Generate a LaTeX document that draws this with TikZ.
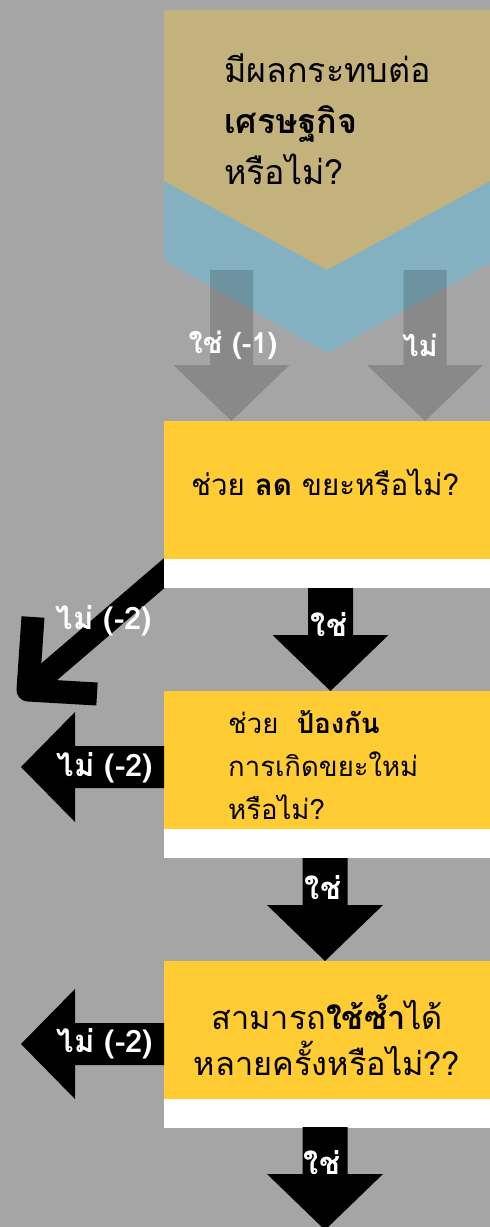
\documentclass[tikz,border=0pt]{standalone}
\usepackage{fontspec}
\setmainfont[Script=Thai]{Loma}
\definecolor{bgc}{HTML}{A5A5A5}
\definecolor{tanc}{HTML}{C4B27D}
\definecolor{bluec}{HTML}{84B1C2}
\definecolor{yelc}{HTML}{FFCC33}
\begin{document}
\begin{tikzpicture}[x=1pt,y=-1pt,
  lbl/.style={text=white,font=\fontsize{31}{34}\selectfont\bfseries,inner sep=0pt},
  qtext/.style={text=black,inner sep=0pt},
  strip/.style={fill=white,draw=none,inner sep=0pt,minimum width=326pt,minimum height=167pt,anchor=north west},
  ybox/.style={fill=yelc,draw=none,inner sep=0pt,minimum width=326pt,minimum height=138pt,anchor=north west},
  darrow/.pic={\fill (-22.5,0) -- (22.5,0) -- (22.5,47) -- (58,47) -- (0,103) -- (-58,47) -- (-22.5,47) -- cycle;},
  larrow/.pic={\fill (0,-21) -- (0,21) -- (-89,21) -- (-89,55) -- (-143,0) -- (-89,-55) -- (-89,-21) -- cycle;},
  garrow/.pic={\fill[black,opacity=0.17] (-21.5,0) -- (21.5,0) -- (21.5,95) -- (58,95) -- (0,151) -- (-58,95) -- (-21.5,95) -- cycle;}
  ]
\fill[bgc] (0,0) rectangle (490,1227);
\useasboundingbox (0,0) rectangle (490,1227);
% top chevrons
\fill[bluec] (164,180) -- (490,180) -- (490,263) -- (327,353) -- (164,260) -- cycle;
\fill[tanc] (164,10) -- (490,10) -- (490,181) -- (327,270) -- (164,181) -- cycle;
\node[qtext,align=left,anchor=west,font=\fontsize{34}{51}\selectfont] (t0) at (224,119)
  {มีผลกระทบต่อ\\\textbf{เศรษฐกิจ}\\หรือไม่?};
\pic at (231.5,270) {garrow};
\pic at (425,270) {garrow};
\node[lbl,font=\fontsize{29}{32}\selectfont\bfseries] (l01) at (233,345) {ใช่ (-1)};
\node[lbl,font=\fontsize{29}{32}\selectfont\bfseries] (l02) at (420,345) {ไม่};
% diagonal arrow
\draw[line width=23pt] (190,551) -- (36,683);
\draw[line width=23pt,line join=round] (33,617) -- (28,690) -- (97,694);
% box 1
\node[strip] (b1w) at (164,421) {};
\node[ybox] (b1) at (164,421) {};
\node[qtext,font=\fontsize{29.5}{34}\selectfont] (t1) at (325,482) {ช่วย \textbf{ลด} ขยะหรือไม่?};
\node[lbl] (l1) at (104,621) {ไม่ (-2)};
\pic at (330.5,588) {darrow};
\node[lbl] (l11) at (329,625) {ใช่};
% box 2
\node[strip] (b2w) at (164,691) {};
\node[ybox] (b2) at (164,691) {};
\node[qtext,align=left,anchor=west,font=\fontsize{27.5}{43}\selectfont] (t2) at (228,765)
  {ช่วย\ \ \textbf{ป้องกัน}\\การเกิดขยะใหม่\\หรือไม่?};
\pic at (164,767) {larrow};
\node[lbl] (l2) at (105,768) {ไม่ (-2)};
\pic at (325,858) {darrow};
\node[lbl] (l21) at (323,888) {ใช่};
% box 3
\node[strip] (b3w) at (164,961) {};
\node[ybox] (b3) at (164,961) {};
\node[qtext,align=center,font=\fontsize{32.5}{46}\selectfont] (t3) at (327,1035)
  {สามารถ\textbf{ใช้ซ้ำ}ได้\\หลายครั้งหรือไม่??};
\pic at (164,1044) {larrow};
\node[lbl] (l3) at (105,1044) {ไม่ (-2)};
\pic at (325,1127) {darrow};
\node[lbl] (l31) at (322,1163) {ใช่};
\end{tikzpicture}
\end{document}
